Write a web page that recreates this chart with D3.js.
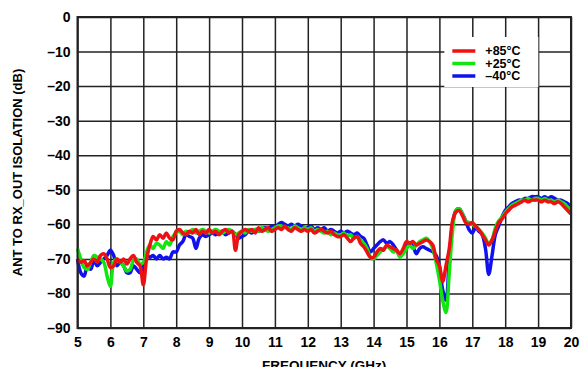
<!DOCTYPE html>
<html>
<head>
<meta charset="utf-8">
<script src="https://cdnjs.cloudflare.com/ajax/libs/d3/7.8.5/d3.min.js"></script>
<style>
  body { margin: 0; background: #fff; }
  svg { display: block; font-family: "Liberation Sans", Arial, sans-serif; }
  .tick text { font-size: 14px; font-weight: bold; fill: #000; }
</style>
</head>
<body>
<div id="chart"></div>
<script>
var svgWidth = 581;
var svgHeight = 367;

var margin = { top: 17, right: 10, bottom: 39, left: 77.5 };
var width = 571 - margin.left;
var height = 328 - margin.top;

// frequency grid (GHz), 0.1 GHz steps from 5 to 20
var freq = d3.range(0, 151).map(i => +(5 + i * 0.1).toFixed(1));

var xTicks = [5, 6, 7, 8, 9, 10, 11, 12, 13, 14, 15, 16, 17, 18, 19, 20];
var yTicks = [0, -10, -20, -30, -40, -50, -60, -70, -80, -90];

var seriesNames = ["+85°C", "+25°C", "\u201340°C"];
var seriesColors = ["#ee1111", "#11e611", "#1111ee"];

// +85°C
var red = [
  -70, -71, -70.5, -72, -71, -70, -71, -69, -68.5, -70,
  -72.5, -72, -70, -71, -70, -71.5, -70, -69, -71, -72,
  -77.5, -70, -66, -63.5, -64.5, -63, -64, -62.5, -64, -64.5,
  -62, -61.5, -62.5, -63, -62, -62.5, -61.5, -63, -62, -62.5,
  -61.5, -62.5, -62, -63, -62, -61.5, -62.5, -62, -67.5, -63,
  -62, -61.5, -62, -61.5, -62.5, -61, -62, -61.5, -61, -62,
  -61.5, -61, -61.5, -60.5, -61.5, -62, -61, -61.5, -62, -61.5,
  -62, -61.5, -62.5, -62, -61.5, -62, -62.5, -62, -63, -63.5,
  -63.5, -63, -64, -65, -64, -63.5, -65.5, -66.5, -68, -69.5,
  -69.5, -68, -67, -67.5, -66, -66.5, -67, -67.5, -68.5, -67,
  -65, -65.5, -65, -66, -65.5, -65, -64.5, -65, -66, -70,
  -72, -76.5, -72, -67, -59, -56.5, -56, -57.5, -59.5, -60,
  -59.5, -60.5, -61.5, -63, -64.5, -66, -64.5, -62, -59.5, -58.5,
  -57, -56, -55, -54.5, -54, -53.5, -53, -53.5, -53, -53,
  -53, -53.5, -53, -53.5, -53.5, -54, -53.5, -54, -55, -56,
  -57
];

// +25°C
var green = [
  -67, -70, -72.5, -73, -71, -69, -69.5, -70, -71, -75,
  -78, -71, -70, -71, -72, -73.5, -73, -70.5, -70, -71.5,
  -71, -68, -66, -67, -65.5, -66, -67, -65, -66, -63.5,
  -62.5, -62, -63, -62, -62.5, -61.5, -62.5, -62, -61.5, -62,
  -62.5, -62, -61.5, -62, -62.5, -62, -61.5, -62, -63, -62.5,
  -62, -62.5, -61.5, -62, -61.5, -62, -61, -61.5, -62, -61.5,
  -61, -60.5, -60.5, -61, -61, -61.5, -60.5, -61, -61.5, -61,
  -61.5, -61, -62, -61.5, -62, -62.5, -62, -63, -62.5, -63,
  -63, -62.5, -63.5, -63, -64, -63.5, -64.5, -65.5, -67, -69.5,
  -70, -69, -68, -67, -66.5, -67, -68, -67.5, -69.5, -68.5,
  -67, -66, -67, -66, -65, -64.5, -64, -65, -67, -71,
  -76, -82, -85.5, -74, -62, -56, -55.5, -57, -59, -59.5,
  -60, -60.5, -61.5, -62.5, -64, -65.5, -64.5, -61, -59, -58,
  -56.5, -55.5, -54.5, -54, -53.5, -53, -53, -52.5, -53, -52.5,
  -52.5, -53, -52.5, -53, -53, -53.5, -53, -53.5, -54, -55,
  -56
];

// -40°C
var blue = [
  -70, -74, -75, -72, -73, -70.5, -72, -71, -70, -69,
  -67.5, -69, -72, -71, -72, -74, -74, -72, -73, -74,
  -72, -69, -69.5, -69, -70, -69, -70, -69.5, -70, -68,
  -68, -66, -65, -63, -63.5, -64, -67, -64, -63, -63.5,
  -63, -62.5, -63, -62.5, -62, -63, -62.5, -62, -63, -64,
  -63.5, -63, -62, -62.5, -61.5, -62, -61.5, -61, -61.5, -60.5,
  -61, -60, -59.5, -60, -60.5, -60, -60.5, -60, -60.5, -61,
  -61, -60.5, -61.5, -61, -61.5, -61, -62, -61.5, -62, -62.5,
  -62, -62.5, -62, -62.5, -63, -62.5, -63.5, -64, -66, -68,
  -67, -66, -65, -64.5, -65.5, -65, -66, -67.5, -69, -68,
  -66, -65.5, -66.5, -68.5, -67, -66.5, -67, -67.5, -68, -69,
  -72, -79, -82, -70, -60, -56, -55.5, -57, -59, -61.5,
  -62.5, -61, -62, -63, -67, -74.5, -69, -63, -60.5, -58,
  -56, -55, -54, -53.5, -53, -53, -52.5, -52.5, -52, -52,
  -52, -52.5, -52, -52.5, -52, -52.5, -53, -53, -53.5, -54,
  -55
];

var svg = d3.select("#chart")
  .append("svg")
  .attr("width", svgWidth)
  .attr("height", svgHeight);

var chartGroup = svg.append("g")
  .attr("transform", `translate(${margin.left}, ${margin.top})`);

var xScale = d3.scaleLinear().domain([5, 20]).range([0, width]);
var yScale = d3.scaleLinear().domain([-90, 0]).range([height, 0]);

// gridlines + tick labels
var bottomAxis = d3.axisBottom(xScale)
  .tickValues(xTicks)
  .tickSize(-height)
  .tickPadding(9)
  .tickFormat(d3.format("d"));

var leftAxis = d3.axisLeft(yScale)
  .tickValues(yTicks)
  .tickSize(-width)
  .tickPadding(7)
  .tickFormat(d => d < 0 ? "\u2013" + Math.abs(d) : d);

var xg = chartGroup.append("g")
  .attr("transform", `translate(0, ${height})`)
  .call(bottomAxis);

var yg = chartGroup.append("g")
  .call(leftAxis);

[xg, yg].forEach(function(g) {
  g.select(".domain").remove();
  g.selectAll(".tick line")
    .attr("stroke", "#222")
    .attr("stroke-width", 1.5);
});

// legend background (hides gridlines)
var legendX = xScale(16.15);
chartGroup.append("rect")
  .attr("x", legendX)
  .attr("y", 20)
  .attr("width", 94)
  .attr("height", 50)
  .attr("fill", "#fff");

// lines
var line = d3.line()
  .x((d, i) => xScale(freq[i]))
  .y(d => yScale(d))
  .curve(d3.curveCatmullRom);

[blue, green, red].forEach(function(s, k) {
  chartGroup.append("path")
    .datum(s)
    .attr("fill", "none")
    .attr("stroke", seriesColors[2 - k])
    .attr("stroke-width", 3.5)
    .attr("stroke-linejoin", "round")
    .attr("d", line);
});

// frame
chartGroup.append("rect")
  .attr("x", 0)
  .attr("y", 0)
  .attr("width", width)
  .attr("height", height)
  .attr("fill", "none")
  .attr("stroke", "#222")
  .attr("stroke-width", 2);

// legend
var legend = chartGroup.selectAll(".legend")
  .data(seriesNames)
  .enter()
  .append("g")
  .attr("transform", (d, i) => `translate(${legendX + 8}, ${34 + i * 12.5})`);

legend.append("line")
  .attr("x1", 0)
  .attr("x2", 23)
  .attr("stroke", (d, i) => seriesColors[i])
  .attr("stroke-width", 3.5);

legend.append("text")
  .attr("x", 33)
  .attr("dy", "0.35em")
  .style("font-size", "12.5px")
  .style("font-weight", "bold")
  .text(d => d);

// axis labels
svg.append("text")
  .attr("transform", `translate(22, ${margin.top + height / 2}) rotate(-90)`)
  .attr("text-anchor", "middle")
  .style("font-size", "13px")
  .style("font-weight", "bold")
  .text("ANT TO RX_OUT ISOLATION (dB)");

svg.append("text")
  .attr("x", margin.left + width / 2)
  .attr("y", 370)
  .attr("text-anchor", "middle")
  .style("font-size", "13.5px")
  .style("font-weight", "bold")
  .text("FREQUENCY (GHz)");
</script>
</body>
</html>
